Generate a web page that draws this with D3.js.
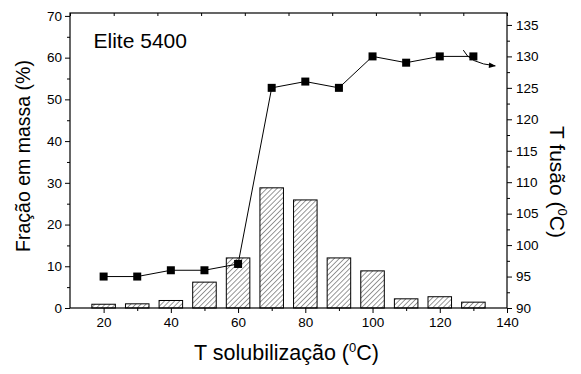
<!DOCTYPE html>
<html>
<head>
<meta charset="utf-8">
<script src="https://cdn.jsdelivr.net/npm/d3@7"></script>
<style>
  body { margin: 0; background: #fff; }
  svg text { font-family: Arial, "Liberation Sans", sans-serif; fill: #000; }
  .axis text { font-size: 13.5px; }
  .axis line { stroke: #000; stroke-width: 1; }
</style>
</head>
<body>
<svg id="chart" width="581" height="374"></svg>
<script>
// data
const temps = [20, 30, 40, 50, 60, 70, 80, 90, 100, 110, 120, 130];
const massFraction = [0.9, 1.0, 1.8, 6.2, 12.0, 28.8, 25.9, 12.0, 8.9, 2.2, 2.7, 1.4];
const meltTemp = [95, 95, 96, 96, 97, 125, 126, 125, 130, 129, 130, 130];
const xTicks = [20, 40, 60, 80, 100, 120, 140];
const leftTicks = [0, 10, 20, 30, 40, 50, 60, 70];
const rightTicks = [90, 95, 100, 105, 110, 115, 120, 125, 130, 135];

const margin = {top: 13, right: 74, bottom: 66, left: 70};
const width = 581 - margin.left - margin.right;
const height = 374 - margin.top - margin.bottom;

const svg = d3.select("#chart");

// hatch pattern for the bars
const defs = svg.append("defs");
defs.append("pattern")
  .attr("id", "hatch")
  .attr("patternUnits", "userSpaceOnUse")
  .attr("width", 3.6).attr("height", 3.6)
  .attr("patternTransform", "rotate(45)")
  .append("line")
  .attr("x1", 0).attr("y1", 0).attr("x2", 0).attr("y2", 3.6)
  .attr("stroke", "#000").attr("stroke-width", 0.8);

defs.append("marker")
  .attr("id", "arrow")
  .attr("viewBox", "0 0 10 10")
  .attr("refX", 9).attr("refY", 5)
  .attr("markerWidth", 9).attr("markerHeight", 7)
  .attr("markerUnits", "userSpaceOnUse")
  .attr("orient", "auto")
  .append("path").attr("d", "M0,1 L10,5 L0,9 Z").attr("fill", "#000");

const g = svg.append("g")
  .attr("transform", "translate(" + margin.left + "," + margin.top + ")");

const x = d3.scaleLinear().domain([10, 140]).range([0, width]);
const yLeft = d3.scaleLinear().domain([0, 70.7]).range([height, 0]);
const yRight = d3.scaleLinear().domain([90, 136.9]).range([height, 0]);

// bars
const barW = x(17) - x(10);
g.selectAll(".bar")
  .data(temps)
  .join("rect")
  .attr("class", "bar")
  .attr("x", (d) => x(d) - barW / 2)
  .attr("y", (d, i) => yLeft(massFraction[i]))
  .attr("width", barW)
  .attr("height", (d, i) => height - yLeft(massFraction[i]))
  .attr("fill", "url(#hatch)")
  .attr("stroke", "#000")
  .attr("stroke-width", 1);

// melting temperature line
const line = d3.line()
  .x((d) => x(d))
  .y((d, i) => yRight(meltTemp[i]));

g.append("path")
  .datum(temps)
  .attr("fill", "none")
  .attr("stroke", "#000")
  .attr("stroke-width", 1)
  .attr("d", line);

g.selectAll(".pt")
  .data(temps)
  .join("rect")
  .attr("class", "pt")
  .attr("x", (d) => x(d) - 4)
  .attr("y", (d, i) => yRight(meltTemp[i]) - 4)
  .attr("width", 8).attr("height", 8)
  .attr("fill", "#000");

// curved arrow pointing to the right axis
g.append("path")
  .attr("d", "M" + x(127) + "," + yRight(131)
    + " Q" + x(128.8) + "," + yRight(128.9) + " " + x(136.5) + "," + yRight(128.5))
  .attr("fill", "none")
  .attr("stroke", "#000")
  .attr("stroke-width", 1)
  .attr("marker-end", "url(#arrow)");

// axes
const xAxis = g.append("g").attr("class", "axis")
  .attr("transform", "translate(0," + height + ")")
  .call(d3.axisBottom(x).tickValues(xTicks).tickSize(5).tickPadding(4));
xAxis.select(".domain").remove();
g.append("g").attr("class", "axis")
  .attr("transform", "translate(0," + height + ")")
  .call(d3.axisBottom(x).tickValues(d3.range(30, 140, 20)).tickSize(3).tickFormat(""))
  .select(".domain").remove();

const yAxisL = g.append("g").attr("class", "axis")
  .call(d3.axisLeft(yLeft).tickValues(leftTicks).tickSize(5).tickPadding(3));
yAxisL.select(".domain").remove();
g.append("g").attr("class", "axis")
  .call(d3.axisLeft(yLeft).tickValues(d3.range(5, 70, 10)).tickSize(3).tickFormat(""))
  .select(".domain").remove();

const yAxisR = g.append("g").attr("class", "axis")
  .attr("transform", "translate(" + width + ",0)")
  .call(d3.axisRight(yRight).tickValues(rightTicks).tickSize(5).tickPadding(4));
yAxisR.select(".domain").remove();
g.append("g").attr("class", "axis")
  .attr("transform", "translate(" + width + ",0)")
  .call(d3.axisRight(yRight).tickValues(d3.range(92.5, 135, 5)).tickSize(3).tickFormat(""))
  .select(".domain").remove();

// top axis: inward ticks only
const xTop = d3.scaleLinear().domain([0, 10]).range([0, width]);
g.append("g").attr("class", "axis")
  .call(d3.axisBottom(xTop).ticks(10).tickSize(3).tickFormat(""))
  .select(".domain").remove();

// frame
g.append("rect")
  .attr("width", width).attr("height", height)
  .attr("fill", "none").attr("stroke", "#000").attr("stroke-width", 1.2);

// labels
g.append("text")
  .attr("x", x(17)).attr("y", 35)
  .style("font-size", "21px")
  .text("Elite 5400");

const xt = svg.append("text")
  .attr("x", margin.left + width / 2 - 2).attr("y", 360)
  .attr("text-anchor", "middle")
  .style("font-size", "21.5px");
xt.append("tspan").text("T solubilização (");
xt.append("tspan").attr("dy", -8).style("font-size", "13px").text("0");
xt.append("tspan").attr("dy", 8).text("C)");

svg.append("text")
  .attr("transform", "translate(30,156) rotate(-90)")
  .attr("text-anchor", "middle")
  .style("font-size", "19.5px")
  .text("Fração em massa (%)");

const yt = svg.append("text")
  .attr("transform", "translate(550,182) rotate(90)")
  .attr("text-anchor", "middle")
  .style("font-size", "21px");
yt.append("tspan").text("T fusão (");
yt.append("tspan").attr("dy", -8).style("font-size", "13px").text("0");
yt.append("tspan").attr("dy", 8).text("C)");
</script>
</body>
</html>
